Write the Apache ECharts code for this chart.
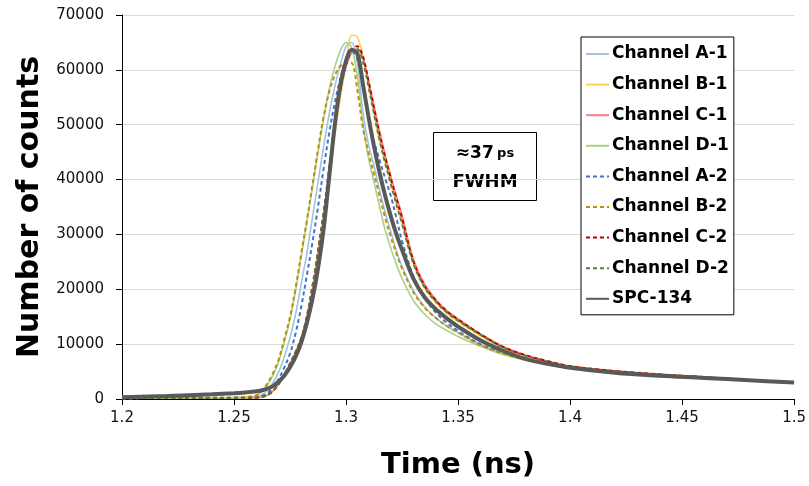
<!DOCTYPE html>
<html>
<head>
    <meta charset="UTF-8" />
    <title>timing response</title>
    <style>
        * { margin: 0; padding: 0; }
        html, body { width: 809px; height: 486px; background: #fff; }
        #chart { width: 809px; height: 486px; }
    </style>
</head>
<body>
    <div id="chart"></div>
    <script src="https://cdn.jsdelivr.net/npm/echarts@6/dist/echarts.min.js"></script>
    <script type="text/javascript">
        // time axis (ns), shared by all curves
        var times = [1.2, 1.22, 1.24, 1.25, 1.255,
            1.26, 1.2625, 1.265, 1.2675, 1.27, 1.2725, 1.275, 1.2775, 1.28, 1.2825, 1.285, 1.2875, 1.29, 1.2925,
            1.295, 1.2975, 1.3, 1.3025, 1.305, 1.3075, 1.31, 1.3125, 1.315, 1.3175, 1.32, 1.3225, 1.325,
            1.33, 1.335, 1.34, 1.345, 1.35, 1.36, 1.37, 1.38, 1.39, 1.4, 1.42, 1.44, 1.46, 1.48, 1.5];

        var chA1 = [150, 180, 220, 250, 280,
            300, 800, 1700, 3000, 5000, 7700, 11200, 15500, 21000, 26500, 33000, 39500, 46000, 52000,
            57000, 61000, 64300, 65000, 61500, 52500, 46500, 42500, 38000, 34000, 30500, 27000, 24200,
            19800, 16800, 14800, 13300, 12100, 9900, 8400, 7300, 6400, 5700, 4900, 4300, 3850, 3400, 3000];
        var chB1 = [150, 180, 200, 200, 200,
            250, 400, 750, 1500, 2800, 4500, 6500, 8700, 11200, 15000, 20000, 26000, 32500, 40000,
            48000, 55000, 61000, 66300, 66000, 62500, 57500, 52000, 47000, 43000, 39500, 35500, 32000,
            24800, 20300, 17600, 15600, 14100, 11500, 9300, 7800, 6800, 6000, 5100, 4500, 4000, 3500, 3000];
        var chC1 = [150, 180, 200, 200, 200,
            250, 380, 720, 1500, 2700, 4300, 6300, 8500, 11000, 14800, 20000, 26500, 33500, 41500,
            49500, 56000, 60500, 63000, 63800, 62200, 58200, 53500, 48800, 44500, 40600, 37000, 33500,
            25600, 21000, 18200, 16100, 14600, 11900, 9600, 8000, 6900, 6000, 5100, 4500, 4000, 3500, 3000];
        var chD1 = [150, 180, 220, 250, 350,
            600, 1400, 2600, 4400, 6900, 10500, 14500, 19800, 26000, 32200, 38500, 45000, 51000, 56500,
            60500, 63500, 65000, 64000, 59000, 50500, 44000, 39500, 35000, 30800, 27500, 24500, 22000,
            18000, 15500, 13700, 12500, 11400, 9600, 8100, 7100, 6300, 5600, 4800, 4250, 3800, 3350, 2950];
        var chA2 = [150, 180, 220, 250, 280,
            300, 550, 1100, 2100, 3700, 5800, 8300, 12000, 16800, 22500, 28500, 35000, 42000, 48500,
            54000, 58500, 62000, 63500, 62000, 57500, 51500, 47000, 43500, 40200, 37000, 33000, 28800,
            22500, 18500, 15800, 13900, 12400, 10000, 8500, 7300, 6400, 5700, 4900, 4300, 3850, 3400, 3000];
        var chB2 = [150, 180, 220, 250, 350,
            700, 1600, 2900, 4800, 7300, 11000, 15000, 20300, 26500, 32500, 39000, 45500, 51500, 56000,
            59000, 60700, 61400, 61300, 56500, 49500, 45000, 41000, 37000, 33000, 29500, 26500, 23800,
            19500, 16700, 14800, 13300, 12100, 9800, 8300, 7200, 6300, 5600, 4800, 4250, 3800, 3350, 2950];
        var chC2 = [150, 180, 200, 200, 200,
            250, 400, 750, 1500, 2800, 4500, 6500, 8500, 11000, 15000, 20500, 27000, 34000, 42000,
            50000, 56500, 61000, 63700, 64300, 62500, 58000, 53000, 48200, 44000, 40200, 36500, 33000,
            25200, 20700, 18000, 16000, 14500, 11800, 9500, 8000, 6900, 6000, 5100, 4500, 4000, 3500, 3000];
        var chD2 = [150, 180, 200, 200, 200,
            250, 400, 750, 1500, 2800, 4500, 6500, 8600, 11000, 15000, 20500, 27000, 34000, 42000,
            50000, 56500, 61000, 63500, 63800, 61500, 57000, 52000, 47200, 43000, 39200, 35500, 32000,
            24800, 20400, 17800, 15800, 14300, 11700, 9400, 7900, 6800, 5900, 5050, 4450, 3950, 3450, 2980];
        var spc134 = [300, 550, 850, 1050, 1200,
            1400, 1600, 1900, 2400, 3200, 4300, 5800, 7700, 10300, 13800, 18200, 23800, 31000, 40500,
            50000, 57300, 61600, 63600, 63100, 57500, 51500, 46000, 41200, 37000, 33300, 30000, 27200,
            22000, 18600, 16400, 14700, 13200, 10700, 8800, 7300, 6400, 5700, 4800, 4250, 3850, 3400, 3000];

        var seriesNames = ["Channel A-1", "Channel B-1", "Channel C-1", "Channel D-1",
            "Channel A-2", "Channel B-2", "Channel C-2", "Channel D-2", "SPC-134"];
        var seriesValues = [chA1, chB1, chC1, chD1, chA2, chB2, chC2, chD2, spc134];
        var seriesColors = ["#9dc3e6", "#ffd34d", "#ff7c80", "#a9d18e",
            "#4472c4", "#bf9000", "#c00000", "#548235", "#595959"];
        var dashed = [false, false, false, false, true, true, true, true, false];

        var font = "DejaVu Sans";

        var myChart = echarts.init(document.getElementById("chart"));

        var series = seriesNames.map(function (name, k) {
            var isSpc = name === "SPC-134";
            return {
                name: name,
                type: "line",
                smooth: 0.35,
                symbol: "none",
                data: times.map(function (t, i) { return [t, seriesValues[k][i]]; }),
                lineStyle: {
                    color: seriesColors[k],
                    width: isSpc ? 4 : (dashed[k] ? 2 : 1.6),
                    type: dashed[k] ? [4, 3] : "solid"
                },
                itemStyle: { color: seriesColors[k] }
            };
        });

        var option = {
            animation: false,
            textStyle: { fontFamily: font },
            grid: { left: 122, right: 14, top: 15, bottom: 87 },
            legend: {
                orient: "vertical",
                left: 581,
                top: 37,
                padding: [8.5, 5, 7.5, 4],
                itemGap: 13.6,
                itemWidth: 23,
                itemHeight: 14,
                itemStyle: { opacity: 0 },
                backgroundColor: "#fff",
                borderColor: "#000",
                borderWidth: 1,
                textStyle: { fontFamily: font, fontSize: 17, fontWeight: "bold", color: "#000", padding: [0, 0, 0, -2] },
                data: seriesNames
            },
            xAxis: {
                type: "value",
                min: 1.2,
                max: 1.5,
                interval: 0.05,
                name: "Time (ns)",
                nameLocation: "middle",
                nameGap: 52,
                nameTextStyle: { fontFamily: font, fontSize: 29, fontWeight: "bold", color: "#000" },
                axisLine: { lineStyle: { color: "#000", width: 1 } },
                axisTick: { show: true, length: 6, lineStyle: { color: "#000" } },
                axisLabel: {
                    color: "#111", fontSize: 15, margin: 12,
                    formatter: function (v) { return String(+v.toFixed(2)); }
                },
                splitLine: { show: false }
            },
            yAxis: {
                type: "value",
                min: 0,
                max: 70000,
                interval: 10000,
                name: "Number of counts",
                nameLocation: "middle",
                nameGap: 73,
                nameTextStyle: { fontFamily: font, fontSize: 30, fontWeight: "bold", color: "#000" },
                axisLine: { show: true, lineStyle: { color: "#000", width: 1 } },
                axisTick: { show: true, length: 6, lineStyle: { color: "#000" } },
                axisLabel: {
                    color: "#111", fontSize: 15, margin: 18,
                    formatter: function (v) { return String(v); }
                },
                splitLine: { lineStyle: { color: "#d9d9d9", width: 1 } }
            },
            graphic: [{
                type: "group",
                left: 433,
                top: 132,
                children: [{
                    type: "rect",
                    shape: { x: 0, y: 0, width: 103, height: 68 },
                    style: { fill: "#fff", stroke: "#000", lineWidth: 1 }
                }, {
                    type: "text",
                    x: 51.5,
                    y: 21,
                    style: {
                        text: "{a|≈37} {b|ps}",
                        align: "center",
                        verticalAlign: "middle",
                        rich: {
                            a: { fontFamily: font, fontSize: 17, fontWeight: "bold", fill: "#000" },
                            b: { fontFamily: font, fontSize: 13, fontWeight: "bold", fill: "#000" }
                        }
                    }
                }, {
                    type: "text",
                    x: 51.5,
                    y: 50,
                    style: {
                        text: "FWHM",
                        align: "center",
                        verticalAlign: "middle",
                        fontFamily: font,
                        fontSize: 18,
                        fontWeight: "bold",
                        fill: "#000"
                    }
                }]
            }],
            series: series
        };
        myChart.setOption(option);
    </script>
</body>
</html>
